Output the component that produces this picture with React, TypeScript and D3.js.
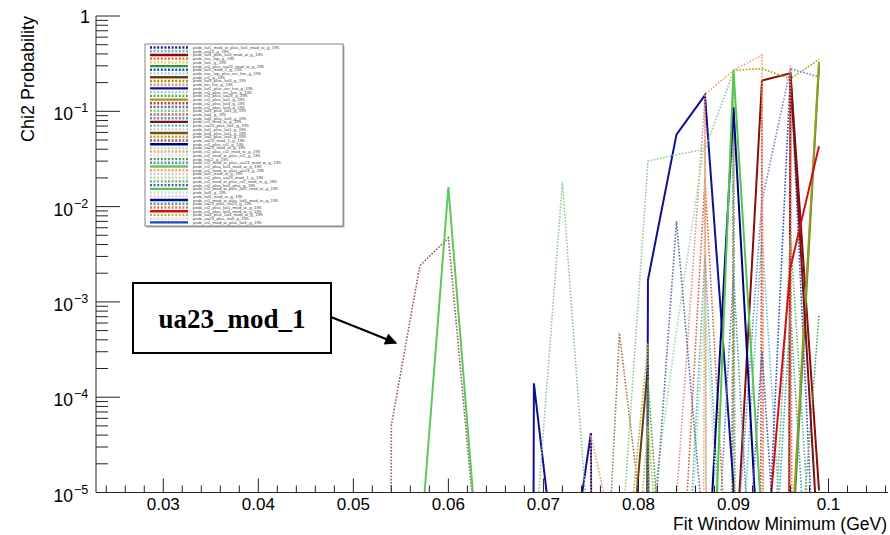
import React from "react";
import * as d3 from "d3";

// ---------- data ----------
const Z = 1e-100; // effectively zero on the log axis
const fitMin = [0.051, 0.054, 0.057, 0.060, 0.063, 0.066, 0.069, 0.072, 0.075, 0.078, 0.081, 0.084, 0.087, 0.090, 0.093, 0.096, 0.099];

const belowRange = [Z, Z, Z, Z, Z, Z, Z, Z, Z, Z, Z, Z, Z, Z, Z, Z, Z];
const pUa23Mod1 = [Z, 5.1e-5, 2.4e-3, 4.7e-3, 2.6e-6, Z, Z, Z, Z, Z, Z, Z, Z, Z, Z, Z, Z];
const pGreenA = [Z, Z, 2.3e-6, 1.6e-2, 3e-6, Z, Z, Z, Z, Z, Z, Z, Z, Z, Z, Z, Z];
const pNavyA = [Z, Z, Z, Z, Z, Z, 1.4e-4, 3.8e-7, 4.2e-5, Z, 1.7e-3, 5.7e-2, 1.48e-1, 1.2e-5, Z, Z, Z];
const pPaleGreenA = [Z, Z, Z, Z, Z, Z, 2.2e-6, 1.8e-2, 1.5e-6, 1.4e-6, 3.0e-2, 3.5e-2, 4.0e-2, 2.6e-1, Z, Z, Z];
const pTan = [Z, Z, Z, Z, Z, Z, Z, Z, 6e-10, 4.7e-4, 1.5e-6, Z, Z, Z, Z, Z, Z];
const pSalmonA = [Z, Z, Z, Z, Z, Z, Z, Z, 4e-5, 1.7e-6, Z, Z, Z, Z, Z, Z, Z];
const pOliveDotA = [Z, Z, Z, Z, Z, Z, Z, Z, Z, 3e-7, 3.7e-4, Z, Z, Z, Z, Z, Z];
const pBrown = [Z, Z, Z, Z, Z, Z, Z, Z, Z, 8e-8, 2.2e-4, Z, Z, Z, Z, Z, Z];
const pSteelA = [Z, Z, Z, Z, Z, Z, Z, Z, Z, Z, 5e-7, 7e-3, 2.5e-6, Z, Z, Z, Z];
const pPaleGreenB = [Z, Z, Z, Z, Z, Z, Z, Z, Z, Z, 3e-6, 5e-4, 5e-2, Z, Z, Z, Z];
const pOrange = [Z, Z, Z, Z, Z, Z, Z, Z, Z, Z, Z, Z, 0.15, 0.27, 0.39, Z, Z];
const pOliveDotB = [Z, Z, Z, Z, Z, Z, Z, Z, Z, Z, Z, Z, Z, 0.27, 0.28, 0.22, 0.35];
const pDarkRed = [Z, Z, Z, Z, Z, Z, Z, Z, Z, Z, Z, Z, Z, 7e-7, 0.21, 0.25, 1.05e-5];
const pRed = [Z, Z, Z, Z, Z, Z, Z, Z, Z, Z, Z, Z, Z, Z, 7e-7, 2.3e-3, 0.043];
const pNavyB = [Z, Z, Z, Z, Z, Z, Z, Z, Z, Z, Z, Z, 4e-7, 0.11, 4e-7, Z, Z];
const pGreenB = [Z, Z, Z, Z, Z, Z, Z, Z, Z, Z, Z, Z, 6e-9, 0.27, 4.7e-6, Z, Z];
const pGreenC = [Z, Z, Z, Z, Z, Z, Z, Z, Z, Z, Z, Z, Z, Z, Z, 1.3e-6, 0.30];
const pTeal = [Z, Z, Z, Z, Z, Z, Z, Z, Z, Z, Z, Z, Z, 1e-7, 5e-3, 1e-7, Z];
const pBlueDotA = [Z, Z, Z, Z, Z, Z, Z, Z, Z, Z, Z, Z, Z, Z, 1e-7, 0.27, 1.3e-7];
const pSteelB = [Z, Z, Z, Z, Z, Z, Z, Z, Z, Z, Z, Z, Z, 1e-6, 1.15e-2, 0.28, 0.23];
const pGreenDot = [Z, Z, Z, Z, Z, Z, Z, Z, Z, Z, Z, Z, Z, Z, Z, 1e-7, 7.3e-4];
const pPink = [Z, Z, Z, Z, Z, Z, Z, Z, Z, Z, Z, 8.5e-6, 0.14, Z, Z, Z, Z];
const pRoseRed = [Z, Z, Z, Z, Z, Z, Z, Z, Z, Z, Z, Z, Z, Z, 0.2, Z, Z];
const pRoseB = [Z, Z, Z, Z, Z, Z, Z, Z, Z, Z, Z, 1e-7, 2e-2, 1e-7, Z, Z, Z];
const pNavyDot = [Z, Z, Z, Z, Z, Z, Z, Z, Z, Z, Z, Z, Z, 0.09, Z, Z, Z];
const pOliveSolid = [Z, Z, Z, Z, Z, Z, Z, Z, Z, Z, Z, Z, Z, Z, Z, 2e-6, 0.33];
const pMaroon = [Z, Z, Z, Z, Z, Z, Z, Z, Z, Z, Z, Z, Z, Z, Z, 0.24, 2e-6];
const pSalmonB = [Z, Z, Z, Z, Z, Z, Z, Z, Z, Z, Z, Z, Z, Z, Z, 0.3, Z];
const pTealB = [Z, Z, Z, Z, Z, Z, Z, Z, Z, Z, Z, 1e-8, 3e-3, 1e-8, Z, Z, Z];
const pGreenDotB = [Z, Z, Z, Z, Z, Z, Z, Z, Z, Z, 1.5e-4, 1e-8, Z, Z, Z, Z, Z];
const pBlueTeal = [Z, Z, Z, Z, Z, Z, Z, Z, Z, Z, Z, Z, 1e-8, 2e-3, 1e-8, Z, Z];
const pPaleGreenC = [Z, Z, Z, Z, Z, Z, Z, Z, Z, Z, Z, 1e-8, 1e-3, 1e-8, Z, Z, Z];
const pGreenDotC = [Z, Z, Z, Z, Z, Z, Z, Z, Z, Z, Z, Z, Z, Z, 1e-8, 5e-3, 1e-7];
const pBlueDotB = [Z, Z, Z, Z, Z, Z, Z, Z, Z, Z, Z, Z, Z, 1e-8, 3e-4, 1e-8, Z];
const pTealC = [Z, Z, Z, Z, Z, Z, Z, Z, Z, Z, Z, Z, Z, Z, 1e-8, 8e-4, 1e-8];
const pOliveDotC = [Z, Z, Z, Z, Z, Z, Z, Z, Z, 1e-8, 5e-5, 1e-8, Z, Z, Z, Z, Z];

const seriesNames = [
  "prob_lat1_mod_w_plus_lat1_mod_w_g_195", "prob_ua23_g_195", "prob_lat3_plus_lat3_mod_w_g_195", "prob_nsc_lap_g_195",
  "prob_lat1_g_195", "prob_ct2_plus_ua23_mod_w_g_195", "prob_lat1_mod_1_g_195", "prob_nsc_lap_plus_err_fun_g_195",
  "prob_ct2_g_195", "prob_lat3_plus_lat3_g_195", "prob_err_fun_g_195", "prob_lat1_plus_err_fun_g_195",
  "prob_ct2_plus_err_fun_g_195", "prob_ct2_plus_ua23_g_195", "prob_ct2_plus_lat1_g_195", "prob_ct2_plus_lat3_g_195",
  "prob_ct2_plus_lat4_g_195", "prob_lat3_plus_lat1_g_195", "prob_lat4_g_195", "prob_lat4_plus_lat3_g_195",
  "prob_ct2_mod_w_g_195", "prob_ua23_plus_lat1_g_195", "prob_lat1_plus_lat1_g_195", "prob_lat4_plus_lat1_g_195",
  "prob_lat4_plus_lat4_g_195", "prob_ua23_mod_1_g_195", "prob_ct2_plus_ct2_g_195", "prob_ua23_mod_w_g_195",
  "prob_ct2_plus_ct2_mod_w_g_195", "prob_ct2_mod_w_plus_ct2_g_195", "prob_nsc2_g_195", "prob_ct2_mod_w_plus_ua23_mod_w_g_195",
  "prob_ct2_plus_lat3_mod_w_g_195", "prob_ct2_mod_w_plus_ua23_g_195", "prob_lat1_mod_w_g_195", "prob_ct2_plus_ua23_mod_1_g_195",
  "prob_ct2_mod_w_plus_ct2_mod_w_g_195", "prob_ct2_plus_lat3_plus_g_195", "prob_ct2_mod_w_plus_lat1_mod_w_g_195", "prob_lat3_g_195",
  "prob_lat3_mod_w_g_195", "prob_ct2_mod_w_plus_lat3_mod_w_g_195", "prob_ua23_plus_ua23_g_195", "prob_ct2_plus_lat1_mod_w_g_195",
  "prob_ct2_plus_lat4_mod_w_g_195", "prob_lat4_plus_lat4_mod_w_g_195", "prob_ua23_plus_lat4_g_195", "prob_ct2_mod_w_plus_lat4_g_195",
];

const seriesValues = [
  pNavyDot, pTeal, pDarkRed, pRoseB,
  belowRange, pGreenC, pBlueDotA, belowRange,
  pBrown, pOliveDotB, pPink, pNavyA,
  pPaleGreenB, pGreenDot, pOliveSolid, pRoseRed,
  pSteelA, pPaleGreenA, pTan, pSteelB,
  pMaroon, pTealB, belowRange, belowRange,
  pOliveDotA, pUa23Mod1, pNavyB, belowRange,
  pSalmonA, belowRange, pGreenDotB, pBlueTeal,
  pGreenA, pOrange, belowRange, pPaleGreenC,
  pGreenDotC, pBlueDotB, pGreenB, belowRange,
  belowRange, belowRange, pTealC, pSalmonB,
  pRed, pOliveDotC, belowRange, belowRange,
];

const seriesColors = [
  "#22228a", "#66c2c2", "#8b0a0a", "#e0603a",
  "#d8d860", "#3a8f3a", "#2a4fc0", "#a8d8d8",
  "#6b3a12", "#a0a000", "#e09090", "#10108f",
  "#a8d8a8", "#5aa55a", "#9a9a1e", "#c83c3c",
  "#5a6faa", "#90c890", "#a07850", "#6f8cc8",
  "#7a1010", "#5ab4b4", "#d0d0d0", "#7a4a1a",
  "#b0b030", "#a05a5a", "#00007a", "#b8e0b8",
  "#e8a070", "#d8d8d8", "#4aa04a", "#5f8fa8",
  "#5ec85e", "#ff9a66", "#d0d0d0", "#b8e0b8",
  "#70b070", "#4060b0", "#55c455", "#d8d8d8",
  "#d8d8d8", "#0a0a80", "#40a8a8", "#f07050",
  "#d01010", "#b8b840", "#d8d8d8", "#2040c8",
];

// true = solid line, false = dotted
const seriesSolid = [
  false, false, true, false,
  false, true, false, false,
  true, false, false, true,
  false, false, true, false,
  false, false, false, false,
  true, false, false, true,
  false, false, true, false,
  false, false, false, false,
  true, false, false, false,
  false, false, true, false,
  false, true, false, false,
  true, false, false, true,
];

const xMajorTicks = [0.03, 0.04, 0.05, 0.06, 0.07, 0.08, 0.09, 0.1];
const xTickLabels = ["0.03", "0.04", "0.05", "0.06", "0.07", "0.08", "0.09", "0.1"];
const yMajorExponents = [0, -1, -2, -3, -4, -5];

// ---------- layout ----------
const W = 890, H = 535;
const L = 96, R = 888, T = 16, B = 492.5;

export default function App() {
  const x = d3.scaleLinear().domain([0.02292, 0.10626]).range([L, R]);
  const y = d3.scaleLog().domain([1e-5, 1]).range([B, T]);
  const line = d3
    .line<number>()
    .x((_, i) => x(fitMin[i]))
    .y((d) => y(d));

  const xMinor = d3.range(12, 54).map((k) => k * 0.002);
  const yMinor: number[] = [];
  for (let e = -5; e < 0; e++) for (let m = 2; m <= 9; m++) yMinor.push(m * Math.pow(10, e));

  const legX = 145, legY = 44, legW = 198, legH = 182;
  const entryY0 = 47.5, entryStep = 3.72;

  const font = "'Liberation Sans', Arial, Helvetica, sans-serif";

  return (
    <svg width={W} height={H} style={{ position: "absolute", left: 0, top: 0, background: "#fff" }}>
      <defs>
        <clipPath id="plotClip">
          <rect x={L} y={T} width={R - L} height={B - T} />
        </clipPath>
        <marker id="arrowHead" viewBox="0 0 10 10" refX="9" refY="5" markerWidth="7" markerHeight="6" orient="auto" markerUnits="strokeWidth">
          <path d="M0,0 L10,5 L0,10 z" fill="#000" />
        </marker>
      </defs>
      <rect x={0} y={0} width={W} height={H} fill="#fff" />

      {/* series */}
      <g clipPath="url(#plotClip)">
        {seriesValues.map((vals, i) => (
          <path
            key={i}
            d={line(vals) || ""}
            fill="none"
            stroke={seriesColors[i]}
            strokeWidth={seriesSolid[i] ? 2 : 1.6}
            strokeDasharray={seriesSolid[i] ? undefined : "1.6 1.6"}
          />
        ))}
      </g>

      {/* axes */}
      <line x1={L} x2={L} y1={T} y2={B} stroke="#222" strokeWidth={1} />
      <line x1={L} x2={R} y1={B} y2={B} stroke="#222" strokeWidth={1} />
      {xMinor.map((v, i) => {
        const major = Math.abs(v * 100 - Math.round(v * 100)) < 1e-6;
        return (
          <line key={"xm" + i} x1={x(v)} x2={x(v)} y1={B} y2={B - (major ? 14 : 7)} stroke="#222" strokeWidth={1} />
        );
      })}
      {xMajorTicks.map((v, i) => (
        <text key={"xl" + i} x={x(v)} y={510} textAnchor="middle" fontFamily={font} fontSize={17} fill="#000">
          {xTickLabels[i]}
        </text>
      ))}
      {yMinor.map((v, i) => (
        <line key={"ym" + i} x1={L} x2={L + 12} y1={y(v)} y2={y(v)} stroke="#222" strokeWidth={1} />
      ))}
      {yMajorExponents.map((e) => (
        <line key={"yM" + e} x1={L} x2={L + 24} y1={y(Math.pow(10, e))} y2={y(Math.pow(10, e))} stroke="#222" strokeWidth={1} />
      ))}
      {yMajorExponents.map((e) =>
        e === 0 ? (
          <text key={"yl" + e} x={90} y={y(1) + 7} textAnchor="end" fontFamily={font} fontSize={18} fill="#000">1</text>
        ) : (
          <g key={"yl" + e}>
            <text x={73} y={y(Math.pow(10, e)) + 9} textAnchor="end" fontFamily={font} fontSize={17.5} fill="#000">10</text>
            <text x={74} y={y(Math.pow(10, e)) + 1} textAnchor="start" fontFamily={font} fontSize={12.5} fill="#000">{"\u2212" + String(-e)}</text>
          </g>
        )
      )}

      {/* axis titles */}
      <text x={887} y={530} textAnchor="end" fontFamily={font} fontSize={17.5} fill="#000">Fit Window Minimum (GeV)</text>
      <text transform="translate(34,16) rotate(-90)" textAnchor="end" fontFamily={font} fontSize={18} fill="#000">Chi2 Probability</text>

      {/* legend */}
      <rect x={legX + 1.5} y={legY + 1.5} width={legW} height={legH} fill="#b0b0b0" />
      <rect x={legX} y={legY} width={legW} height={legH} fill="#fff" stroke="#666" strokeWidth={0.8} />
      {seriesNames.map((name, i) => {
        const yy = entryY0 + i * entryStep;
        return (
          <g key={"lg" + i}>
            <line
              x1={150}
              x2={188}
              y1={yy}
              y2={yy}
              stroke={seriesColors[i]}
              strokeWidth={2.4}
              strokeDasharray={seriesSolid[i] ? undefined : "2 1.6"}
            />
            <text x={193} y={yy + 1.5} fontFamily={font} fontSize={4.4} fill="#444">{name}</text>
          </g>
        );
      })}

      {/* annotation */}
      <line x1={331} y1={317} x2={396} y2={343} stroke="#000" strokeWidth={2} markerEnd="url(#arrowHead)" />
      <rect x={133} y={283} width={198} height={70} fill="#fff" stroke="#000" strokeWidth={2} />
      <text x={232} y={328} textAnchor="middle" fontFamily="'Liberation Serif', 'Times New Roman', serif" fontWeight="bold" fontSize={27} fill="#000">
        ua23_mod_1
      </text>
    </svg>
  );
}
